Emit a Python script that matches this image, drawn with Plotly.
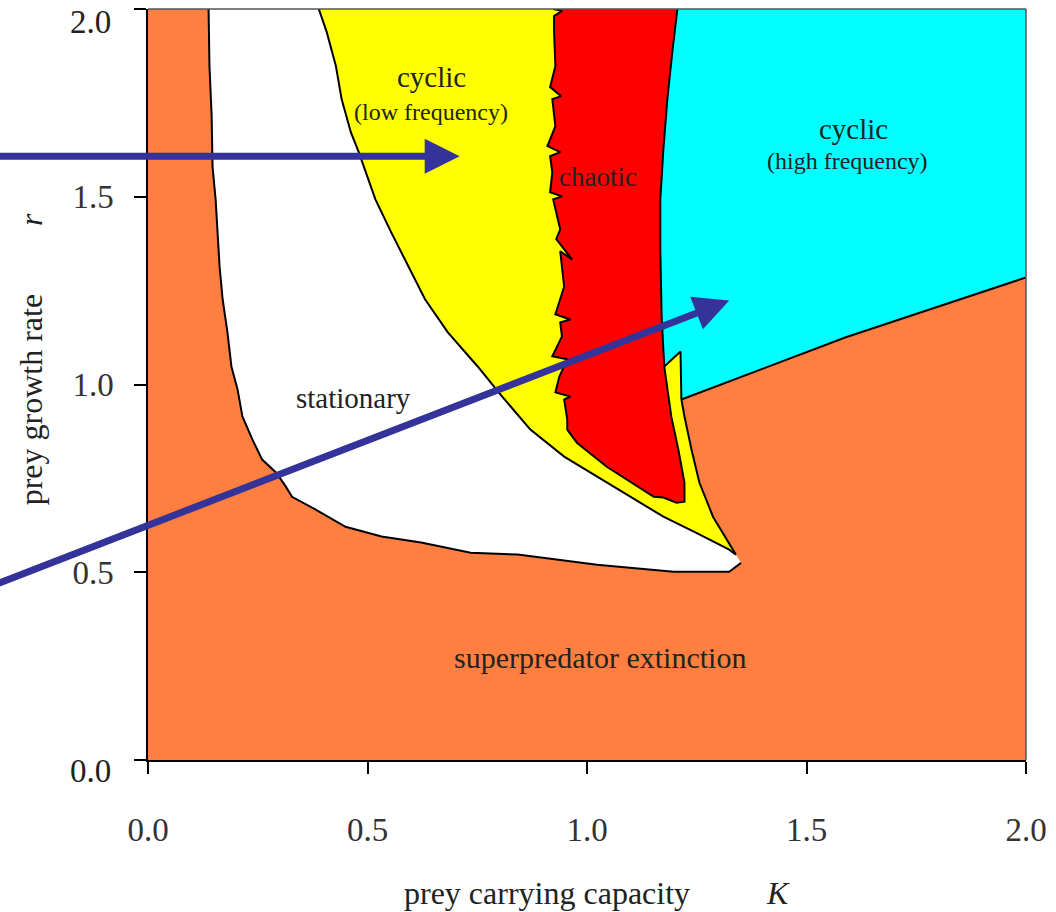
import plotly.graph_objects as go

# ---- data: region boundaries in (K, r) ----
# orange/white boundary (left strip, then bottom of stationary region)
A_K = [0.138, 0.140, 0.145, 0.147, 0.154, 0.163, 0.170, 0.181, 0.190, 0.204, 0.215, 0.238, 0.260,
       0.292, 0.314, 0.328, 0.382, 0.450, 0.532, 0.622, 0.735, 0.842, 1.023, 1.197, 1.324, 1.351]
A_r = [2.000, 1.848, 1.715, 1.581, 1.493, 1.315, 1.227, 1.139, 1.048, 0.987, 0.915, 0.853, 0.800,
       0.765, 0.728, 0.701, 0.667, 0.621, 0.595, 0.579, 0.552, 0.547, 0.520, 0.501, 0.501, 0.525]
# white/yellow boundary
B_K = [0.389, 0.407, 0.428, 0.441, 0.462, 0.480, 0.518, 0.554, 0.593, 0.631, 0.683, 0.751, 0.803,
       0.871, 0.948, 1.023, 1.097, 1.174, 1.249, 1.324, 1.339]
B_r = [2.000, 1.939, 1.848, 1.760, 1.672, 1.619, 1.493, 1.405, 1.315, 1.227, 1.139, 1.048, 0.973,
       0.880, 0.808, 0.755, 0.701, 0.648, 0.605, 0.560, 0.547]
# yellow/orange boundary up to the sliver peak
C_K = [1.339, 1.287, 1.256, 1.238, 1.222, 1.215, 1.213, 1.176]
C_r = [0.547, 0.648, 0.739, 0.827, 0.915, 0.960, 1.088, 1.048]
# red/cyan boundary
D_K = [1.176, 1.170, 1.167, 1.167, 1.174, 1.183, 1.195, 1.206]
D_r = [1.048, 1.181, 1.360, 1.493, 1.627, 1.760, 1.893, 2.000]
# cyan/orange boundary
E_K = [1.215, 1.588, 2.000]
E_r = [0.960, 1.125, 1.285]
# red/yellow jagged edge, bottom and lower right edge of chaotic region
F_K = [0.923, 0.943, 0.925, 0.925, 0.928, 0.916, 0.941, 0.921, 0.928, 0.910, 0.939, 0.916, 0.921,
       0.916, 0.943, 0.923, 0.939, 0.930, 0.966, 0.939, 0.948, 0.928, 0.962, 0.939, 0.943, 0.921,
       0.955, 0.937, 0.928, 0.962, 0.948, 0.955, 0.955,
       0.977, 1.045, 1.152, 1.174, 1.204, 1.222,
       1.222, 1.208, 1.192]
F_r = [2.000, 1.995, 1.981, 1.939, 1.848, 1.792, 1.768, 1.760, 1.688, 1.635, 1.619, 1.608, 1.565,
       1.512, 1.501, 1.493, 1.413, 1.387, 1.333, 1.355, 1.261, 1.187, 1.173, 1.165, 1.128, 1.075,
       1.067, 1.021, 0.979, 0.968, 0.960, 0.907, 0.880,
       0.845, 0.781, 0.701, 0.699, 0.685, 0.688,
       0.739, 0.827, 0.915]

# arrows: (tail K, tail r, head K, head r)
arrow_tail_K = [-0.36, -0.36]
arrow_tail_r = [1.608, 0.462]
arrow_head_K = [0.710, 1.324]
arrow_head_r = [1.608, 1.224]

tick_vals = [0.0, 0.5, 1.0, 1.5, 2.0]
x_tick_text = ["0.0", "0.5", "1.0", "1.5", "2.0"]
y_tick_text = ["", "0.5", "1.0", "1.5", ""]  # end labels placed separately (offset as in original)

ORANGE = "#FF7F40"
SERIF = "Liberation Serif, Times New Roman, serif"
TXT = "#222222"

fig = go.Figure()


def poly(xs, ys, color):
    fig.add_trace(go.Scatter(x=xs, y=ys, mode="lines", fill="toself", fillcolor=color,
                             line=dict(width=0, color=color), hoverinfo="skip", showlegend=False))


def edge(xs, ys):
    fig.add_trace(go.Scatter(x=xs, y=ys, mode="lines", line=dict(color="black", width=2),
                             hoverinfo="skip", showlegend=False))


# white (stationary)
poly(A_K + B_K[::-1], A_r + B_r[::-1], "#FFFFFF")
# yellow (cyclic low freq)
poly(B_K + C_K + D_K[1:], B_r + C_r + D_r[1:], "#FFFF00")
# red (chaotic)
poly(F_K + D_K, F_r + D_r, "#FF0000")
# cyan (cyclic high freq)
poly([2.0] + E_K[::-1] + C_K[-2:] + D_K[1:], [2.0] + E_r[::-1] + C_r[-2:] + D_r[1:], "#00FFFF")

# boundary lines
edge(A_K, A_r)
edge(B_K, B_r)
edge(C_K, C_r)
edge(D_K, D_r)
edge(E_K, E_r)
edge(F_K + [D_K[0]], F_r + [D_r[0]])

annotations = []
for tk, tr, hk, hr in zip(arrow_tail_K, arrow_tail_r, arrow_head_K, arrow_head_r):
    annotations.append(dict(x=hk, y=hr, ax=tk, ay=tr, xref="x", yref="y", axref="x", ayref="y",
                            text="", showarrow=True, arrowhead=2, arrowsize=1, arrowwidth=7,
                            arrowcolor="#333399", standoff=0))

labels = [
    ("cyclic", 0.645, 1.819, 29),
    ("(low frequency)", 0.645, 1.725, 24),
    ("chaotic", 1.025, 1.552, 27),
    ("cyclic", 1.606, 1.680, 29),
    ("(high frequency)", 1.593, 1.595, 24),
    ("stationary", 0.468, 0.965, 29),
    ("superpredator extinction", 1.029, 0.272, 30),
]
for t, k, r, s in labels:
    annotations.append(dict(x=k, y=r, xref="x", yref="y", text=t, showarrow=False,
                            xanchor="center", yanchor="middle",
                            font=dict(family=SERIF, size=s, color=TXT)))


def paper_text(x, y, text, size, angle=0, xanchor="center"):
    annotations.append(dict(x=x, y=y, xref="paper", yref="paper", text=text, showarrow=False,
                            textangle=angle, xanchor=xanchor, yanchor="middle",
                            font=dict(family=SERIF, size=size, color=TXT)))


# axis titles
paper_text(0.455, -0.177, "prey carrying capacity", 32)
paper_text(0.717, -0.177, "<i>K</i>", 32)
paper_text(-0.1335, 0.48, "prey growth rate", 32, angle=-90)
paper_text(-0.1335, 0.72, "<i>r</i>", 32, angle=-90)
# end labels of the r axis
paper_text(-0.0396, 0.983, y_tick_text[0] or "2.0", 33, xanchor="right")
paper_text(-0.0396, -0.0146, "0.0", 33, xanchor="right")

axis_common = dict(range=[0, 2], tickvals=tick_vals, showgrid=False,
                   zeroline=False, showline=True, linecolor="black", linewidth=1.5,
                   ticks="outside", ticklen=12, tickwidth=1.5, tickcolor="black",
                   tickfont=dict(family=SERIF, size=33, color="#333333"), fixedrange=True,
                   ticklabeloverflow="allow")

fig.update_layout(
    width=1056, height=912,
    margin=dict(l=148, r=24, t=9, b=152),
    paper_bgcolor="white",
    plot_bgcolor=ORANGE,
    xaxis=dict(axis_common, ticktext=x_tick_text, ticklabelstandoff=28),
    yaxis=dict(axis_common, ticktext=y_tick_text, ticklabelstandoff=14),
    annotations=annotations,
    shapes=[
        dict(type="line", xref="paper", yref="paper", x0=0, x1=1, y0=1, y1=1,
             line=dict(color="#555555", width=1.5)),
        dict(type="line", xref="paper", yref="paper", x0=1, x1=1, y0=0, y1=1,
             line=dict(color="#555555", width=1.5)),
    ],
    showlegend=False,
)

fig.write_html("out.html")
